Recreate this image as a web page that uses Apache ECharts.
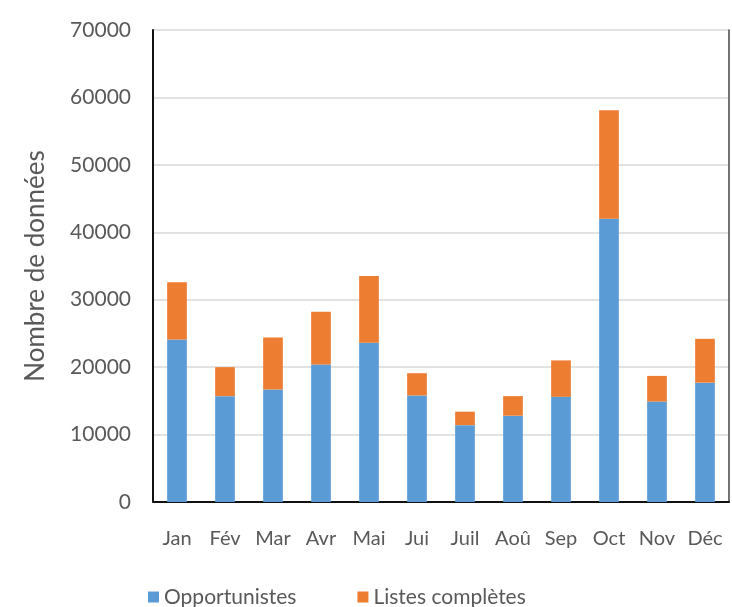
<!DOCTYPE html>
<html>
<head>
<meta charset="utf-8">
<script src="https://cdn.jsdelivr.net/npm/echarts@6/dist/echarts.min.js"></script>
<style>html,body{margin:0;padding:0;background:#fff}#c{width:732px;height:607px}</style>
</head>
<body>
<div id="c"></div>
<script>
const categories = ["Jan","Fév","Mar","Avr","Mai","Jui","Juil","Aoû","Sep","Oct","Nov","Déc"];
const opportunistes = [24100, 15700, 16700, 20400, 23600, 15800, 11400, 12800, 15600, 42000, 14900, 17700];
const listesCompletes = [8500, 4300, 7700, 7800, 9900, 3300, 2000, 2900, 5400, 16100, 3800, 6500];
const seriesNames = ["Opportunistes", "Listes complètes"];
const yTicks = { min: 0, max: 70000, interval: 10000 };

const font = "Lato, 'Open Sans', sans-serif";
const chart = echarts.init(document.getElementById('c'), null, {renderer: 'canvas'});
chart.setOption({
  animation: false,
  textStyle: { fontFamily: font },
  grid: { left: 153, top: 30, right: 3, bottom: 105, containLabel: false },
  legend: {
    top: 581, left: 143,
    itemWidth: 11, itemHeight: 11, itemGap: 61,
    icon: 'rect',
    textStyle: { fontSize: 21, color: '#595959', fontFamily: font, lineHeight: 22 },
    data: seriesNames
  },
  xAxis: [{
    type: 'category', data: categories,
    axisLine: { lineStyle: { color: '#d9d9d9', width: 1.5 } },
    axisTick: { show: false },
    axisLabel: { interval: 0, hideOverlap: false, color: '#595959', fontSize: 20, margin: 27, fontFamily: font }
  }, {
    type: 'category', data: categories, position: 'top',
    axisLine: { show: true, lineStyle: { color: '#111', width: 2 } },
    axisTick: { show: false }, axisLabel: { show: false }
  }],
  yAxis: [{
    type: 'value', min: yTicks.min, max: yTicks.max, interval: yTicks.interval,
    name: 'Nombre de données', nameLocation: 'middle', nameGap: 104,
    nameTextStyle: { fontSize: 26, color: '#595959', fontFamily: font },
    axisLine: { show: true, lineStyle: { color: '#111', width: 2 } },
    axisTick: { show: false },
    axisLabel: { color: '#595959', fontSize: 21, margin: 22, fontFamily: font,
      formatter: function (v) { return String(v); } },
    splitLine: { lineStyle: { color: '#d9d9d9', width: 1.5 } }
  }, {
    type: 'value', min: yTicks.min, max: yTicks.max, interval: yTicks.interval,
    position: 'right',
    axisLine: { show: true, lineStyle: { color: '#444', width: 1.5 } },
    axisTick: { show: false }, axisLabel: { show: false }, splitLine: { show: false }
  }],
  series: [{
    name: seriesNames[0], type: 'bar', stack: 'a', data: opportunistes,
    barWidth: '41%', itemStyle: { color: '#5B9BD5' }
  }, {
    name: seriesNames[1], type: 'bar', stack: 'a', data: listesCompletes,
    barWidth: '41%', itemStyle: { color: '#ED7D31' }
  }]
});
</script>
</body>
</html>
